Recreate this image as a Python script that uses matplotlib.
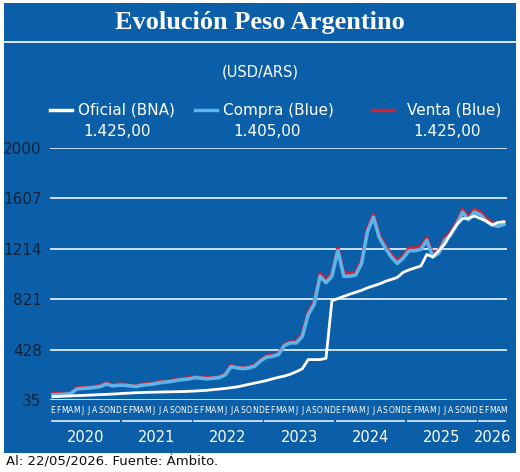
import matplotlib
matplotlib.use("Agg")
import matplotlib.pyplot as plt
from matplotlib.patches import Rectangle
import numpy as np

years = ["2020","2021","2022","2023","2024","2025","2026"]
month_letters = ["E","F","M","A","M","J","J","A","S","O","N","D"]
oficial = [60,63,65,67,69,71,73,75,77,79,81,84,
           87,89,92,93,95,96,97,98,99,100,101,103,
           105,108,111,116,120,125,131,137,147,157,167,177,
           187,200,212,222,236,256,278,350,350,350,360,808,
           826,843,860,875,890,910,925,940,960,975,990,1030,
           1050,1065,1080,1170,1150,1200,1250,1330,1400,1450,1450,1470,
           1450,1430,1400,1420,1425]
compra = [75,77,80,85,120,125,128,133,140,160,145,150,
          150,145,140,150,155,160,170,175,180,190,195,200,
          210,205,200,205,210,230,295,285,280,285,300,340,
          370,375,390,460,480,480,530,700,780,1000,950,1000,
          1200,1000,1000,1010,1100,1350,1460,1300,1220,1150,1100,1140,
          1200,1200,1210,1280,1150,1180,1280,1320,1400,1500,1440,1500,
          1480,1430,1400,1390,1405]
venta = [v + (20 if v > 500 else 8) for v in compra]
yticks = [35,428,821,1214,1607,2000]
legend_labels = ["Oficial (BNA)","Compra (Blue)","Venta (Blue)"]
legend_values = ["1.425,00","1.405,00","1.425,00"]

BLUE = "#0b5fa8"
LBLUE = "#5cb4ea"
RED = "#d42030"
W, H = 520, 472
fig = plt.figure(figsize=(W/100, H/100), dpi=100)
fig.patch.set_facecolor("white")
fig.add_artist(Rectangle((4/W, 1-453/H), 512/W, 450/H, transform=fig.transFigure,
                         facecolor=BLUE, edgecolor="none", zorder=0))
fig.add_artist(plt.Line2D([4/W, 516/W], [1-42/H]*2, color="white", lw=1.2))
fig.text(0.5, 1-22/H, "Evolución Peso Argentino", ha="center", va="center",
         color="white", fontsize=19, fontweight="bold", family="Liberation Serif")
fig.text(0.5, 1-72/H, "(USD/ARS)", ha="center", va="center", color="white", fontsize=10.5)

lx = [50, 195, 372]
cols = ["white", LBLUE, RED]
for x0, c, lab, val, vx in zip(lx, cols, legend_labels, legend_values, [117, 267, 447]):
    fig.add_artist(plt.Line2D([x0/W, (x0+22)/W], [1-110/H]*2, color=c, lw=2.5))
    fig.text((x0+28)/W if c != RED else (x0+35)/W, 1-110/H, lab, ha="left", va="center",
             color="white", fontsize=11)
    fig.text(vx/W, 1-132/H, val, ha="center", va="center", color="white", fontsize=11)

ax = fig.add_axes([50/W, 1-400/H, 457/W, 252/H])
ax.set_facecolor(BLUE)
x = np.arange(len(oficial))
ax.plot(x, venta, color=RED, lw=2.4, zorder=2)
ax.plot(x, compra, color=LBLUE, lw=2.6, zorder=3)
ax.plot(x, oficial, color="white", lw=2, zorder=4)
ax.set_xlim(-0.5, len(oficial)-0.5)
ax.set_ylim(35, 2000)
ax.set_yticks(yticks)
ax.set_yticklabels([str(t) for t in yticks], color="#10223a", fontsize=11)
for t in yticks:
    ax.axhline(t, color="#d8ecf8", lw=1.3, zorder=1)
for s in ax.spines.values():
    s.set_visible(False)
ax.tick_params(axis="y", length=0, pad=6)
ax.set_xticks(x)
ax.set_xticklabels([month_letters[i % 12] for i in x], color="white", fontsize=5.5)
ax.tick_params(axis="x", length=0, pad=4)

for i, yr in enumerate(years):
    start = i*12
    end = min(start+12, len(oficial))
    ax.plot([start-0.2, end-0.8], [-0.085, -0.085], transform=ax.get_xaxis_transform(),
            color="#cfe6f6", lw=1.3, clip_on=False)
    ax.text((start+end-1)/2, -0.15, yr, transform=ax.get_xaxis_transform(),
            ha="center", va="center", color="white", fontsize=10.5)

fig.text(6/W, 1-462/H, "Al: 22/05/2026. Fuente: Ámbito.", ha="left", va="center",
         color="#111111", fontsize=9.5)
fig.savefig("out.png", dpi=100, facecolor=fig.get_facecolor())
